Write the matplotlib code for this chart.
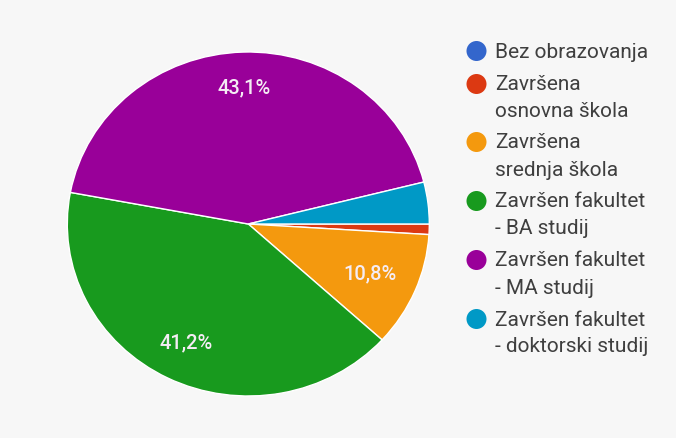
import matplotlib
matplotlib.use("Agg")
import matplotlib.pyplot as plt
import numpy as np

plt.rcParams['font.family'] = ['Roboto', 'DejaVu Sans']

# Data (counts of respondents)
categories = ["Bez obrazovanja", "Završena\nosnovna škola", "Završena\nsrednja škola",
              "Završen fakultet\n- BA studij", "Završen fakultet\n- MA studij",
              "Završen fakultet\n- doktorski studij"]
counts = [0, 1, 11, 42, 44, 4]
colors = ["#3366CC", "#DC3912", "#F4990E", "#189A1E", "#990099", "#0099C6"]

bg = "#f7f7f7"
fig = plt.figure(figsize=(6.76, 4.39), dpi=100, facecolor=bg)

W, H = 676, 439
cx, cy, rx, ry = 248.3, 225.0, 181.0, 172.0
ax = fig.add_axes([(cx - rx) / W, (H - cy - ry) / H, 2 * rx / W, 2 * ry / H])
ax.set_facecolor(bg)

wedges, _ = ax.pie(counts, colors=colors, startangle=0, counterclock=False,
                   wedgeprops=dict(edgecolor="white", linewidth=1.0))
ax.set_aspect('auto')
ax.set_xlim(-1, 1)
ax.set_ylim(-1, 1)
ax.axis('off')

# percentage labels for large slices
total = sum(counts)
label_dist = [0.75, 0.75, 0.73, 0.765, 0.80, 0.75]
for w, c, d in zip(wedges, counts, label_dist):
    pct = 100.0 * c / total
    if pct < 5:
        continue
    mid = np.deg2rad((w.theta1 + w.theta2) / 2)
    txt = f"{pct:.1f}%".replace(".", ",")
    ax.text(d * np.cos(mid), d * np.sin(mid), txt, ha="center", va="center",
            color="#f4ecf4", fontsize=14.5, fontweight="medium")

# manual legend
first_line_y = [52, 85, 143, 202, 261, 320]
line_gap = 27
for cat, col, y in zip(categories, colors, first_line_y):
    fig.patches.append(matplotlib.patches.Ellipse((476.5 / W, 1 - y / H), 20 / W, 20 / H,
                                                  transform=fig.transFigure, facecolor=col,
                                                  edgecolor="none"))
    for i, line in enumerate(cat.split("\n")):
        fig.text(495 / W, 1 - (y + i * line_gap) / H, line, ha="left", va="center",
                 fontsize=15, color="#3f3f3f")

fig.savefig("out.png", dpi=100, facecolor=bg)
